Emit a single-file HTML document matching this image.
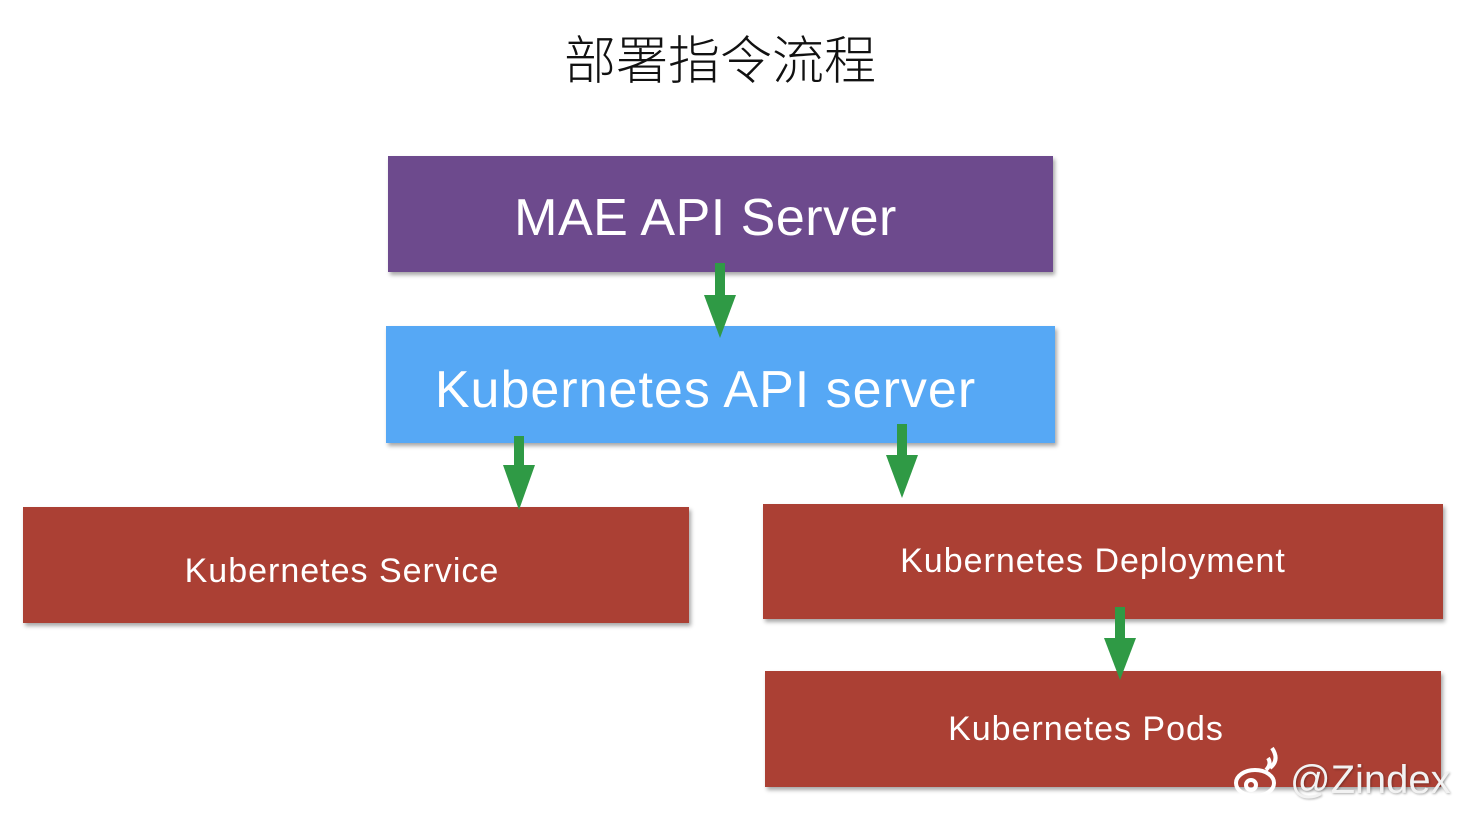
<!DOCTYPE html>
<html><head><meta charset="utf-8"><style>
body{margin:0;width:1466px;height:814px;background:#fff;position:relative;overflow:hidden;font-family:"Liberation Sans","Noto Sans CJK SC",sans-serif}
.b{position:absolute;color:#fff;display:flex;align-items:center;justify-content:center;box-shadow:2px 3px 4px rgba(0,0,0,.35);box-sizing:border-box}
.t{position:absolute;white-space:nowrap}
</style></head><body>
<div class="t" style="left:0;width:1440px;top:19px;text-align:center;font-size:52px;color:#111;font-family:'Noto Sans CJK SC',sans-serif;font-weight:300">部署指令流程</div>
<div class="b" style="left:388px;top:156px;width:665px;height:116px;background:#6d4a8d;font-size:52px;padding-right:30px;padding-top:8px;letter-spacing:0.5px">MAE API Server</div>
<div class="b" style="left:386px;top:326px;width:669px;height:117px;background:#56a8f5;font-size:52px;padding-right:30px;padding-top:10px;letter-spacing:1px">Kubernetes API server</div>
<div class="b" style="left:23px;top:507px;width:666px;height:116px;background:#ab4034;font-size:34px;padding-right:28px;padding-top:12px;letter-spacing:1px">Kubernetes Service</div>
<div class="b" style="left:763px;top:504px;width:680px;height:115px;background:#ab4034;font-size:34px;padding-right:20px;padding-bottom:0px;letter-spacing:1px">Kubernetes Deployment</div>
<div class="b" style="left:765px;top:671px;width:676px;height:116px;background:#ab4034;font-size:34px;padding-right:34px;padding-bottom:0px;letter-spacing:1px">Kubernetes Pods</div>
<svg width="1466" height="814" style="position:absolute;left:0;top:0">
<g fill="#2f9a45">
<rect x="715" y="263" width="10" height="34"/><polygon points="704,295 736,295 720,338"/>
<rect x="514" y="436" width="10" height="31"/><polygon points="503,465 535,465 519,510"/>
<rect x="897" y="424" width="10" height="33"/><polygon points="886,455 918,455 902,498"/>
<rect x="1115" y="607" width="10" height="33"/><polygon points="1104,638 1136,638 1120,680"/>
</g>
<g fill="none" stroke="#fff" stroke-width="4"><ellipse cx="1255" cy="783" rx="19" ry="13"/><circle cx="1251" cy="785" r="5"/><path d="M1266 770 q6-6 2-12 M1270 768 q10-8 2-20"/></g>
</svg>
<div class="t" style="left:1290px;top:758px;font-size:40px;color:#f2f2f2;text-shadow:1px 1px 2px rgba(0,0,0,.3)">@Zindex</div>
</body></html>
